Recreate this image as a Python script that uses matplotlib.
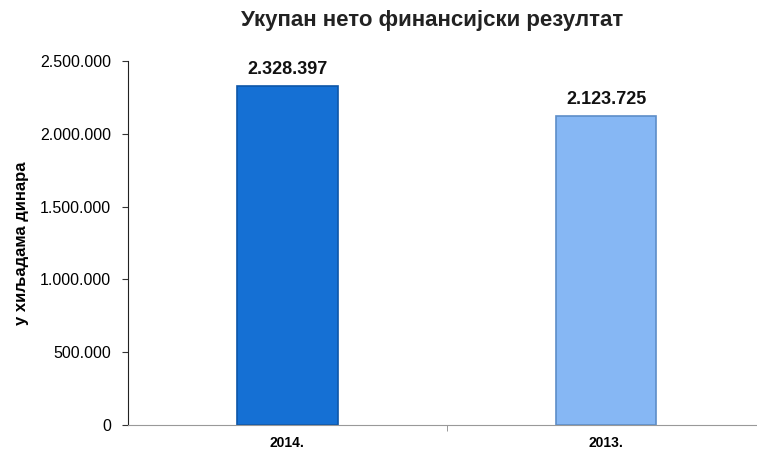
import matplotlib
matplotlib.use("Agg")
from matplotlib import pyplot as plt
from matplotlib.ticker import FuncFormatter

# data
years = ["2014.", "2013."]
values = [2328397, 2123725]
bar_colors = ["#1570d4", "#86b7f4"]
edge_colors = ["#0d56a8", "#5d8ec8"]

plt.rcParams["font.family"] = ["Liberation Sans", "DejaVu Sans"]

fig = plt.figure(figsize=(7.57, 4.55), dpi=100)
ax = fig.add_axes([0.169, 0.066, 0.831, 0.80])

x = range(len(years))
bars = ax.bar(x, values, width=0.315, color=bar_colors, edgecolor=edge_colors, linewidth=1.2)

for xi, v in zip(x, values):
    label = f"{v:,}".replace(",", ".")
    ax.text(xi, v + 55000, label, ha="center", va="bottom", fontsize=13, fontweight="bold", color="#111111")

ax.set_xlim(-0.5, 1.473)
ax.set_ylim(0, 2500000)
ax.set_yticks([0, 500000, 1000000, 1500000, 2000000, 2500000])
ax.yaxis.set_major_formatter(FuncFormatter(lambda v, p: f"{int(v):,}".replace(",", ".")))
ax.set_xticks(list(x))
ax.set_xticklabels(years, fontweight="bold", fontsize=10)
ax.tick_params(axis="y", labelsize=11.5, length=4, pad=8, color="#333333")
ax.tick_params(axis="x", length=0, pad=8)
# category separator tick
ax.set_xticks([0.5], minor=True)
ax.tick_params(axis="x", which="minor", length=4, color="#888888")

ax.spines["top"].set_visible(False)
ax.spines["right"].set_visible(False)
ax.spines["left"].set_color("#222222")
ax.spines["bottom"].set_color("#999999")

ax.set_ylabel("у хиљадама динара", fontsize=12, fontweight="bold", labelpad=8)
fig.text(0.571, 0.955, "Укупан нето финансијски резултат", ha="center", va="center",
         fontsize=16, fontweight="bold", color="#222222")

fig.savefig("out.png", dpi=100)
